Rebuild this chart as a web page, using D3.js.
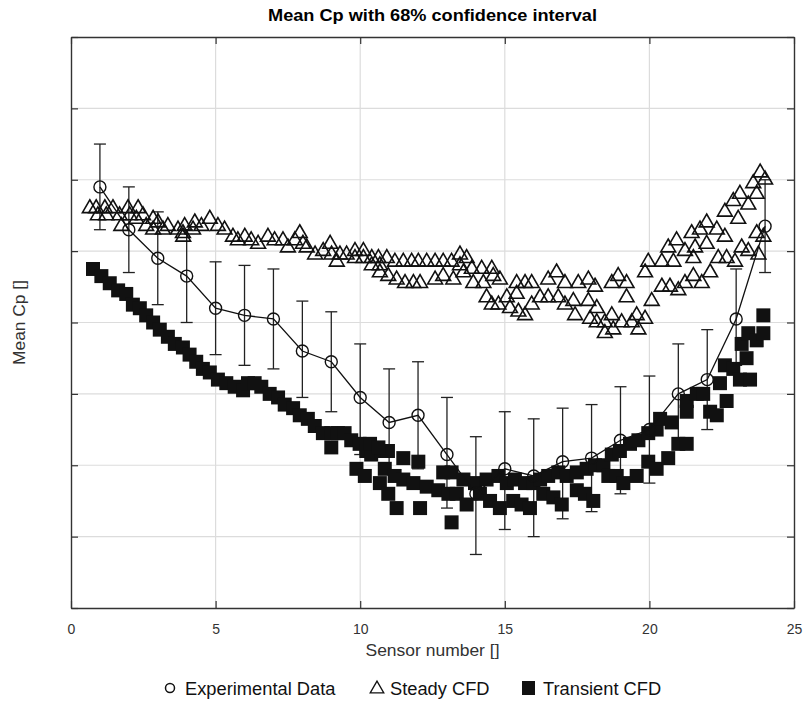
<!DOCTYPE html>
<html lang="en">
<head>
  <meta charset="UTF-8">
  <title>Mean Cp with 68% confidence interval</title>
  <script src="https://d3js.org/d3.v7.min.js"></script>
  <style>
    body { margin: 0; background: #fff; }
    text { font-family: "Liberation Sans", Arial, sans-serif; fill: #333; }
    .title { font-size: 16px; font-weight: bold; fill: #000; }
    .axis-label { font-size: 17px; }
    .tick text { font-size: 14px; fill: #333; }
    .legend text { font-size: 18.3px; fill: #111; }
  </style>
</head>
<body>
  <div id="chart"></div>

  <script>
    // experimental data: sensors 1..24, mean and 68% interval bounds
    const sensors = [1, 2, 3, 4, 5, 6, 7, 8, 9, 10, 11, 12, 13, 14, 15, 16, 17, 18, 19, 20, 21, 22, 23, 24];
    const expMean = [-0.22, -0.34, -0.42, -0.47, -0.56, -0.58, -0.59, -0.68, -0.71, -0.81, -0.88, -0.86,
                     -0.97, -1.08, -1.01, -1.03, -0.99, -0.98, -0.93, -0.90, -0.80, -0.76, -0.59, -0.33];
    const expUpper = [-0.10, -0.22, -0.29, -0.34, -0.43, -0.44, -0.45, -0.54, -0.57, -0.66, -0.73, -0.71,
                      -0.81, -0.92, -0.85, -0.87, -0.84, -0.83, -0.78, -0.75, -0.66, -0.62, -0.45, -0.20];
    const expLower = [-0.34, -0.46, -0.55, -0.60, -0.69, -0.72, -0.73, -0.81, -0.85, -0.97, -1.02, -1.01,
                      -1.12, -1.25, -1.18, -1.20, -1.15, -1.13, -1.08, -1.05, -0.94, -0.90, -0.72, -0.46];

    // steady CFD (two surfaces, read point by point)
    const steadyX = [0.65, 0.87, 0.93, 1.17, 1.22, 1.45, 1.68, 1.74, 1.97, 2.03, 2.32, 2.26, 2.49, 2.60, 2.84, 2.84,
      3.01, 3.18, 3.35, 3.70, 3.87, 3.93, 3.88, 4.22, 4.28, 4.51, 4.80, 5.08, 5.31, 5.60, 5.77, 6.01, 6.23, 6.47,
      6.81, 7.04, 7.33, 7.50, 7.74, 7.91, 8.02, 8.15, 8.44, 8.72, 8.96, 9.01, 9.19, 9.30, 9.53, 9.82, 9.82, 10.11,
      10.11, 10.40, 10.40, 10.63, 10.68, 10.68, 10.92, 10.97, 11.20, 11.26, 11.49, 11.55, 11.78, 11.84, 12.01, 12.07,
      12.30, 12.59, 12.59, 12.87, 12.87, 13.16, 13.22, 13.45, 13.45, 13.57, 13.68, 13.86, 13.91, 14.20, 14.26, 14.55,
      14.60, 14.83, 14.37, 14.55, 14.78, 15.07, 15.18, 15.41, 15.47, 15.41, 15.70, 15.70, 15.93, 16.22, 15.93, 16.50,
      16.79, 17.08, 16.50, 16.85, 17.08, 17.37, 17.54, 17.89, 18.12, 17.43, 17.89, 18.18, 17.95, 18.18, 18.46, 18.46,
      18.70, 18.75, 19.04, 18.92, 18.70, 19.21, 19.21, 19.39, 19.62, 19.85, 19.56, 19.85, 19.96, 20.08, 20.43, 20.43,
      20.65, 20.71, 20.83, 20.94, 21.00, 21.23, 21.23, 21.46, 21.52, 21.58, 21.52, 21.75, 21.81, 21.98, 21.98, 22.10,
      22.33, 22.38, 22.61, 22.61, 22.67, 22.90, 22.96, 23.07, 23.13, 23.19, 23.42, 23.42, 23.59, 23.71, 23.71, 23.77,
      23.83, 24.00, 23.94];
    const steadyCp = [-0.28, -0.28, -0.30, -0.28, -0.30, -0.28, -0.30, -0.33, -0.28, -0.30, -0.28, -0.31, -0.30, -0.33, -0.31, -0.34,
      -0.32, -0.34, -0.33, -0.34, -0.35, -0.33, -0.36, -0.34, -0.32, -0.33, -0.31, -0.33, -0.34, -0.36, -0.37, -0.36, -0.37, -0.38,
      -0.36, -0.37, -0.37, -0.39, -0.37, -0.35, -0.38, -0.39, -0.41, -0.40, -0.38, -0.41, -0.43, -0.41, -0.41, -0.40, -0.42, -0.40,
      -0.42, -0.42, -0.44, -0.42, -0.44, -0.46, -0.42, -0.47, -0.43, -0.48, -0.43, -0.49, -0.43, -0.49, -0.43, -0.49,
      -0.43, -0.43, -0.48, -0.47, -0.43, -0.43, -0.48, -0.41, -0.44, -0.46, -0.42, -0.45, -0.49, -0.45, -0.49, -0.45,
      -0.47, -0.48, -0.53, -0.55, -0.55, -0.53, -0.56, -0.52, -0.57, -0.49, -0.49, -0.58, -0.49, -0.53, -0.55, -0.48,
      -0.46, -0.49, -0.53, -0.53, -0.55, -0.54, -0.49, -0.48, -0.50, -0.58, -0.54, -0.56, -0.59, -0.60, -0.60, -0.63,
      -0.58, -0.62, -0.60, -0.47, -0.49, -0.49, -0.53, -0.60, -0.62, -0.59, -0.58, -0.46, -0.43, -0.54, -0.43, -0.50,
      -0.39, -0.50, -0.43, -0.37, -0.51, -0.40, -0.49, -0.35, -0.42, -0.39, -0.47, -0.34, -0.49, -0.38, -0.32, -0.46,
      -0.34, -0.42, -0.36, -0.29, -0.42, -0.26, -0.43, -0.31, -0.24, -0.39, -0.27, -0.40, -0.21, -0.24, -0.35, -0.41,
      -0.18, -0.20, -0.36];

    // transient CFD
    const transientX = [0.76, 1.05, 1.34, 1.63, 1.91, 2.14, 2.38, 2.60, 2.84, 3.07, 3.35, 3.59, 3.87, 4.10, 4.33, 4.56,
      4.80, 5.08, 5.37, 5.66, 5.95, 6.12, 6.35, 6.58, 6.87, 7.16, 7.39, 7.68, 7.91, 8.19, 8.43, 8.71, 9.00, 9.23,
      9.46, 9.00, 9.69, 9.98, 10.21, 10.38, 10.73, 10.96, 9.87, 10.16, 10.85, 11.19, 10.68, 10.97, 11.26, 11.49,
      12.01, 11.49, 11.84, 12.07, 12.30, 12.70, 12.87, 13.16, 13.16, 13.05, 13.34, 13.57, 13.68, 13.97, 14.14, 14.37,
      14.49, 14.78, 14.83, 15.07, 15.29, 15.35, 15.58, 15.70, 15.87, 15.99, 16.22, 16.33, 16.50, 16.68, 16.85, 16.97,
      17.14, 17.49, 17.49, 17.77, 17.83, 18.06, 18.12, 18.41, 18.58, 18.70, 18.87, 18.98, 19.10, 19.33, 19.56, 19.62,
      19.96, 19.96, 20.25, 20.25, 20.37, 20.65, 20.77, 21.00, 21.29, 21.29, 21.29, 21.64, 21.86, 22.10, 22.33, 22.44,
      22.67, 22.61, 22.90, 23.13, 23.48, 23.36, 23.19, 23.42, 23.71, 23.94, 23.94, 10.34, 10.63];
    const transientCp = [-0.45, -0.47, -0.49, -0.51, -0.52, -0.55, -0.56, -0.58, -0.60, -0.62, -0.64, -0.66, -0.67, -0.69, -0.71, -0.73,
      -0.74, -0.76, -0.77, -0.78, -0.79, -0.77, -0.77, -0.78, -0.80, -0.81, -0.83, -0.84, -0.86, -0.87, -0.89, -0.91, -0.91, -0.91,
      -0.91, -0.95, -0.93, -0.94, -0.96, -0.97, -0.96, -0.96, -1.01, -1.03, -1.01, -1.03, -1.05, -1.08, -1.12, -0.98,
      -0.99, -1.04, -1.05, -1.12, -1.06, -1.07, -1.02, -1.02, -1.16, -1.08, -1.08, -1.04, -1.11, -1.05, -1.08, -1.04,
      -1.10, -1.03, -1.12, -1.05, -1.10, -1.04, -1.11, -1.05, -1.12, -1.05, -1.04, -1.08, -1.03, -1.09, -1.02, -1.11,
      -1.03, -1.02, -1.07, -1.08, -1.01, -1.10, -1.00, -1.00, -1.03, -0.97, -1.03, -0.96, -1.05, -0.94, -1.03, -0.93,
      -0.91, -0.99, -0.90, -1.01, -0.87, -0.98, -0.88, -0.94, -0.94, -0.85, -0.82, -0.80, -0.80, -0.85, -0.86, -0.77,
      -0.82, -0.72, -0.73, -0.76, -0.76, -0.70, -0.66, -0.63, -0.65, -0.63, -0.58, -0.94, -0.95];

    const xTicks = [0, 5, 10, 15, 20, 25];
    const yTicks = [-1.4, -1.2, -1.0, -0.8, -0.6, -0.4, -0.2, 0.0, 0.2];

    const W = 804, H = 702;
    const margin = { top: 37, right: 10, bottom: 94, left: 71 };
    const width = 794 - margin.left;
    const height = 608 - margin.top;

    const svg = d3.select("#chart").append("svg")
      .attr("width", W).attr("height", H);
    const g = svg.append("g").attr("transform", `translate(${margin.left},${margin.top})`);

    const x = d3.scaleLinear().domain([0, 25]).range([0, width]);
    const y = d3.scaleLinear().domain([-1.4, 0.2]).range([height, 0]);

    // grid
    g.append("g").selectAll("line").data(xTicks.slice(1, -1)).join("line")
      .attr("x1", d => x(d)).attr("x2", d => x(d)).attr("y1", 0).attr("y2", height)
      .attr("stroke", "#dcdcdc").attr("stroke-width", 1.2);
    g.append("g").selectAll("line").data(yTicks.slice(1, -1)).join("line")
      .attr("x1", 0).attr("x2", width).attr("y1", d => y(d)).attr("y2", d => y(d))
      .attr("stroke", "#dcdcdc").attr("stroke-width", 1.2);

    // axes, MATLAB style ticks pointing inward
    const styleAxis = sel => {
      sel.select(".domain").attr("stroke", "#333").attr("stroke-width", 1.4);
      sel.selectAll(".tick line").attr("stroke", "#333").attr("stroke-width", 1.2);
    };
    g.append("g").attr("transform", `translate(0,${height})`)
      .call(d3.axisBottom(x).tickValues(xTicks).tickSize(-7).tickSizeOuter(0).tickPadding(16))
      .call(styleAxis);
    g.append("g")
      .call(d3.axisTop(x).tickValues(xTicks).tickSize(-7).tickSizeOuter(0).tickFormat(""))
      .call(styleAxis);
    g.append("g")
      .call(d3.axisLeft(y).tickValues(yTicks).tickSize(-7).tickSizeOuter(0).tickFormat(""))
      .call(styleAxis);
    g.append("g").attr("transform", `translate(${width},0)`)
      .call(d3.axisRight(y).tickValues(yTicks).tickSize(-7).tickSizeOuter(0).tickFormat(""))
      .call(styleAxis);

    const expData = sensors.map((s, i) => ({ s, m: expMean[i], hi: expUpper[i], lo: expLower[i] }));

    // error bars
    const eb = g.append("g").attr("stroke", "#222").attr("stroke-width", 1.3);
    eb.selectAll(".bar").data(expData).join("line")
      .attr("x1", d => x(d.s)).attr("x2", d => x(d.s))
      .attr("y1", d => y(d.hi)).attr("y2", d => y(d.lo));
    eb.selectAll(".capTop").data(expData).join("line").attr("class", "capTop")
      .attr("x1", d => x(d.s) - 6).attr("x2", d => x(d.s) + 6)
      .attr("y1", d => y(d.hi)).attr("y2", d => y(d.hi));
    eb.selectAll(".capBot").data(expData).join("line").attr("class", "capBot")
      .attr("x1", d => x(d.s) - 6).attr("x2", d => x(d.s) + 6)
      .attr("y1", d => y(d.lo)).attr("y2", d => y(d.lo));

    // steady CFD triangles
    const tri = d3.symbol().type(d3.symbolTriangle).size(95);
    g.append("g").selectAll("path").data(steadyX.map((s, i) => [s, steadyCp[i]])).join("path")
      .attr("d", tri)
      .attr("transform", d => `translate(${x(d[0])},${y(d[1])})`)
      .attr("fill", "none").attr("stroke", "#111").attr("stroke-width", 1.6);

    // transient CFD squares
    const sq = d3.symbol().type(d3.symbolSquare).size(196);
    g.append("g").selectAll("path").data(transientX.map((s, i) => [s, transientCp[i]])).join("path")
      .attr("d", sq)
      .attr("transform", d => `translate(${x(d[0])},${y(d[1])})`)
      .attr("fill", "#111");

    // experimental line and circles
    g.append("path").datum(expData)
      .attr("d", d3.line().x(d => x(d.s)).y(d => y(d.m)))
      .attr("fill", "none").attr("stroke", "#111").attr("stroke-width", 1.3);
    g.append("g").selectAll("circle").data(expData).join("circle")
      .attr("cx", d => x(d.s)).attr("cy", d => y(d.m)).attr("r", 6)
      .attr("fill", "none").attr("stroke", "#111").attr("stroke-width", 1.4);

    // labels
    svg.append("text").attr("class", "title")
      .attr("x", margin.left + width / 2).attr("y", 21).attr("text-anchor", "middle")
      .attr("textLength", 329).attr("lengthAdjust", "spacingAndGlyphs")
      .text("Mean Cp with 68% confidence interval");
    svg.append("text").attr("class", "axis-label")
      .attr("x", margin.left + width / 2).attr("y", 656).attr("text-anchor", "middle")
      .attr("textLength", 134).attr("lengthAdjust", "spacingAndGlyphs")
      .text("Sensor number []");
    svg.append("text").attr("class", "axis-label")
      .attr("transform", `translate(25,${margin.top + height / 2}) rotate(-90)`)
      .attr("text-anchor", "middle")
      .attr("textLength", 85).attr("lengthAdjust", "spacingAndGlyphs")
      .text("Mean Cp []");

    // legend
    const legend = svg.append("g").attr("class", "legend");
    const ly = 688;
    legend.append("circle").attr("cx", 170).attr("cy", ly).attr("r", 4.5)
      .attr("fill", "none").attr("stroke", "#111").attr("stroke-width", 1.5);
    legend.append("text").attr("x", 185).attr("y", ly + 6.5).text("Experimental Data");
    legend.append("path").attr("d", d3.symbol().type(d3.symbolTriangle).size(80))
      .attr("transform", `translate(377,${ly + 1})`)
      .attr("fill", "none").attr("stroke", "#111").attr("stroke-width", 1.3);
    legend.append("text").attr("x", 390).attr("y", ly + 6.5).text("Steady CFD");
    legend.append("rect").attr("x", 522).attr("y", ly - 7).attr("width", 13).attr("height", 14)
      .attr("fill", "#111");
    legend.append("text").attr("x", 543).attr("y", ly + 6.5).text("Transient CFD");
  </script>
</body>
</html>
